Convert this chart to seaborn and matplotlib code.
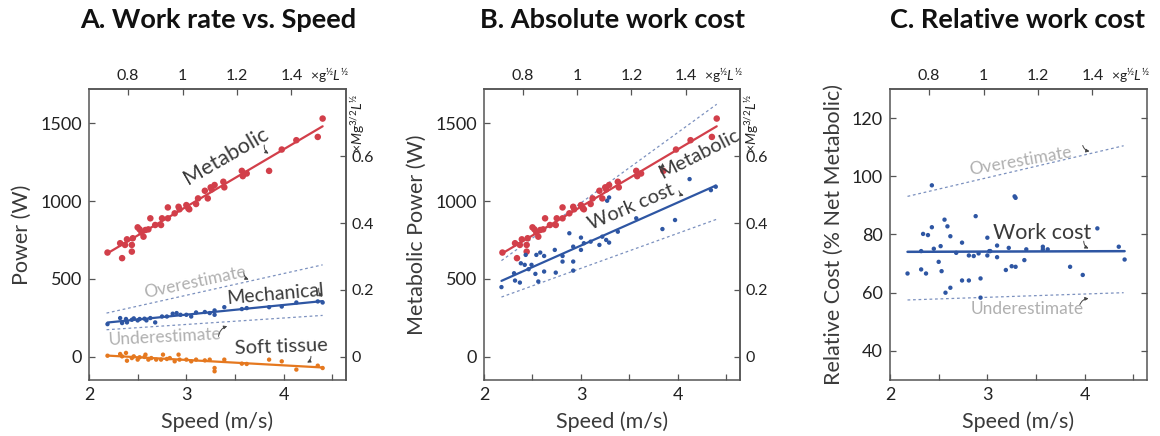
import matplotlib
matplotlib.use("Agg")
import matplotlib.pyplot as plt
import seaborn as sns
import numpy as np
import pandas as pd

# ---------------- data ----------------
met_speed = [2.19, 2.32, 2.34, 2.37, 2.39, 2.44, 2.44, 2.45, 2.50, 2.52, 2.54, 2.56, 2.58,
             2.61, 2.63, 2.68, 2.74, 2.75, 2.81, 2.81, 2.88, 2.92, 2.93, 3.00, 3.02, 3.03,
             3.10, 3.12, 3.19, 3.22, 3.25, 3.26, 3.29, 3.38, 3.39, 3.57, 3.58, 3.62, 3.85,
             3.98, 4.13, 4.35, 4.40]
met_power = [669, 729, 633, 718, 754, 718, 675, 761, 831, 818, 797, 771, 814,
             818, 889, 846, 846, 889, 959, 889, 921, 963, 947, 974, 953, 947,
             981, 1017, 1066, 1017, 1088, 1075, 1103, 1124, 1088, 1194, 1160, 1177, 1194,
             1331, 1391, 1412, 1530]

mech_speed = [2.19, 2.32, 2.34, 2.38, 2.39, 2.44, 2.46, 2.50, 2.52, 2.57, 2.59, 2.63, 2.68,
              2.75, 2.80, 2.86, 2.90, 2.94, 3.00, 3.05, 3.10, 3.19, 3.24, 3.29, 3.29, 3.39,
              3.57, 3.62, 3.85, 3.98, 4.13, 4.35, 4.40]
mech_power = [209, 248, 216, 242, 220, 237, 246, 233, 242, 244, 233, 248, 220,
              258, 258, 276, 280, 269, 269, 258, 284, 287, 280, 297, 269, 318,
              306, 312, 318, 322, 348, 355, 348]

soft_speed = [2.19, 2.32, 2.34, 2.38, 2.39, 2.44, 2.46, 2.50, 2.52, 2.57, 2.58, 2.61, 2.64,
              2.69, 2.74, 2.76, 2.80, 2.83, 2.88, 2.92, 2.93, 3.00, 3.05, 3.10, 3.19, 3.24,
              3.29, 3.29, 3.39, 3.57, 3.62, 3.85, 3.98, 4.13, 4.35, 4.40]
soft_power = [6, 17, 2, 24, -26, -9, 2, -19, -4, -2, 13, -19, -9,
              -19, -19, 13, -15, -9, -30, 13, -19, -19, -30, -19, -24, -19,
              -73, -94, -19, -45, -47, -19, -30, -83, -58, -73]

work_speed = [2.18, 2.31, 2.32, 2.37, 2.38, 2.42, 2.43, 2.46, 2.49, 2.53, 2.54, 2.56, 2.58,
              2.62, 2.62, 2.73, 2.74, 2.81, 2.81, 2.88, 2.92, 2.92, 2.92, 3.00, 3.00, 3.03,
              3.10, 3.19, 3.22, 3.26, 3.27, 3.29, 3.29, 3.38, 3.57, 3.84, 3.97, 4.12, 4.34, 4.39]
work_power = [447, 536, 489, 476, 600, 590, 654, 562, 590, 532, 654, 483, 669,
              647, 547, 686, 540, 647, 611, 793, 707, 611, 553, 765, 686, 729,
              739, 718, 771, 750, 1002, 1023, 733, 803, 889, 820, 878, 1141, 1070, 1092]

rel_speed = [2.18, 2.32, 2.32, 2.34, 2.37, 2.39, 2.43, 2.43, 2.45, 2.50, 2.52, 2.53, 2.56,
             2.57, 2.59, 2.62, 2.62, 2.68, 2.74, 2.74, 2.81, 2.81, 2.86, 2.88, 2.91, 2.93,
             2.93, 3.00, 3.00, 3.02, 3.03, 3.10, 3.10, 3.19, 3.22, 3.25, 3.28, 3.29, 3.29,
             3.38, 3.40, 3.57, 3.57, 3.62, 3.85, 3.98, 4.13, 4.35, 4.41]
rel_cost = [66.6, 74.3, 68.0, 80.2, 66.6, 79.8, 82.5, 96.9, 75.1, 70.6, 76.0, 67.4, 85.1,
            60.0, 82.8, 79.4, 61.7, 73.7, 77.2, 64.2, 72.8, 64.2, 72.6, 86.3, 73.5, 64.9,
            58.3, 78.9, 72.8, 74.3, 74.3, 76.2, 72.2, 67.8, 75.4, 69.1, 93.1, 92.6, 68.9,
            71.2, 74.9, 75.8, 74.9, 74.9, 68.9, 66.1, 82.1, 75.8, 71.4]

# model bound lines (end points)
bound_speed = [2.18, 4.40]
a_over = [280, 590]
a_under = [173, 265]
b_over = [617, 1622]
b_under = [383, 883]
c_over = [93.1, 110.5]
c_under = [57.5, 60.0]

top_ticks = [0.8, 1.0, 1.2, 1.4]
top_labels = ["0.8", "1", "1.2", "1.4"]
right_ticks = [0, 0.2, 0.4, 0.6]
right_labels = ["0", "0.2", "0.4", "0.6"]

# ---------------- style ----------------
sns.set_style("ticks")
plt.rcParams["font.family"] = ["Lato", "DejaVu Sans"]
plt.rcParams["mathtext.fontset"] = "custom"
plt.rcParams["mathtext.rm"] = "Lato"
plt.rcParams["mathtext.it"] = "Lato:italic"

RED = "#d23f4a"
BLUE = "#2e56a3"
ORANGE = "#e5781f"
DOT = "#7c91bf"
GRAY = "#b0b0b0"
DARK = "#3a3a3a"
SPINE = "#555555"

fig = plt.figure(figsize=(11.6, 4.36), dpi=100)
W = 1160.0
H = 436.0
def axrect(left, right, top=89, bottom=380):
    return [left / W, 1 - bottom / H, (right - left) / W, (bottom - top) / H]

axA = fig.add_axes(axrect(89, 346))
axB = fig.add_axes(axrect(484, 740))
axC = fig.add_axes(axrect(890, 1147))

S0, SK = 0.166, 2.795  # speed = S0 + SK * dimensionless
PK = 2145.0

def style(ax, ylim, yticks, rightlabels):
    ax.set_xlim(2, 4.64)
    ax.set_ylim(*ylim)
    ax.set_xticks([2, 2.5, 3, 3.5, 4, 4.5])
    ax.set_xticklabels(["2", "", "3", "", "4", ""])
    ax.set_yticks(yticks)
    ax.set_yticklabels([str(t) for t in yticks])
    for sp in ax.spines.values():
        sp.set_visible(True)
        sp.set_color(SPINE)
        sp.set_linewidth(1.1)
    ax.tick_params(direction="in", length=4, width=0.9, color=SPINE,
                   labelsize=13, labelcolor="#222222", pad=5,
                   right=not rightlabels, top=False)
    ax.set_xlabel("Speed (m/s)", fontsize=15.5, color=DARK, labelpad=6)
    sec = ax.secondary_xaxis("top", functions=(lambda s: (s - S0) / SK, lambda d: S0 + SK * d))
    sec.set_xticks(top_ticks)
    sec.set_xticklabels(top_labels)
    sec.tick_params(direction="in", length=4, width=0.9, color=SPINE,
                    labelsize=11.5, labelcolor="#222222", pad=4)
    sec.spines["top"].set_color(SPINE)
    sec.spines["top"].set_linewidth(1.1)
    ax.text(0.935, 1.045, r"$\times\mathrm{g}^{½}L^{½}$", transform=ax.transAxes,
            fontsize=10, ha="center", va="center", color="#222222")
    if rightlabels:
        sr = ax.secondary_yaxis("right", functions=(lambda w: w / PK, lambda r: r * PK))
        sr.set_yticks(right_ticks)
        sr.set_yticklabels(right_labels)
        sr.tick_params(direction="in", length=4, width=0.9, color=SPINE,
                       labelsize=11.5, labelcolor="#222222", pad=4)
        sr.spines["right"].set_color(SPINE)
        sr.spines["right"].set_linewidth(1.1)
        ax.text(1.045, 0.985, r"$\times M\mathrm{g}^{3/2}L^{½}$", transform=ax.transAxes,
                fontsize=10, ha="center", va="top", rotation=90, color="#222222")

def arrow(ax, xy_from, xy_to, rad=0.3):
    ax.annotate("", xy=xy_to, xytext=xy_from,
                arrowprops=dict(arrowstyle="-|>", lw=0.7, color="#444444",
                                mutation_scale=5, shrinkA=0, shrinkB=0,
                                connectionstyle=f"arc3,rad={rad}"))

def series(ax, x, y, color, size, lw):
    df = pd.DataFrame({"x": x, "y": y})
    sns.scatterplot(data=df, x="x", y="y", ax=ax, color=color, s=size,
                    edgecolor="none", linewidth=0, zorder=3)
    sns.regplot(data=df, x="x", y="y", ax=ax, scatter=False, ci=None,
                color=color, line_kws=dict(lw=lw, zorder=2))

def bound(ax, yv):
    ax.plot(bound_speed, yv, color=DOT, lw=0.9, ls=(0, (2.2, 2.2)), zorder=1)

# ---------------- Panel A ----------------
bound(axA, a_over)
bound(axA, a_under)
series(axA, met_speed, met_power, RED, 22, 1.6)
series(axA, mech_speed, mech_power, BLUE, 10, 1.6)
series(axA, soft_speed, soft_power, ORANGE, 10, 1.6)
style(axA, (-150, 1720), [0, 500, 1000, 1500], True)
axA.set_ylabel("Power (W)", fontsize=15.5, color=DARK, labelpad=6)
axA.text(3.41, 1290, "Metabolic", rotation=30, fontsize=15.5, color=DARK, ha="center", va="center")
arrow(axA, (3.80, 1360), (3.845, 1305))
axA.text(3.91, 400, "Mechanical", rotation=5, fontsize=14, color=DARK, ha="center", va="center")
arrow(axA, (4.36, 440), (4.40, 385))
axA.text(3.09, 480, "Overestimate", rotation=12, fontsize=12.5, color=GRAY, ha="center", va="center")
arrow(axA, (3.59, 540), (3.64, 495))
axA.text(2.78, 126, "Underestimate", rotation=3, fontsize=12.5, color=GRAY, ha="center", va="center")
arrow(axA, (3.33, 130), (3.42, 196), rad=-0.3)
axA.text(3.98, 62, "Soft tissue", rotation=2, fontsize=14.5, color=DARK, ha="center", va="center")
arrow(axA, (4.28, 2), (4.24, -38), rad=-0.3)

# ---------------- Panel B ----------------
bound(axB, b_over)
bound(axB, b_under)
series(axB, met_speed, met_power, RED, 22, 1.6)
series(axB, work_speed, work_power, BLUE, 10, 1.6)
style(axB, (-150, 1720), [0, 500, 1000, 1500], True)
axB.set_ylabel("Metabolic Power (W)", fontsize=15.5, color=DARK, labelpad=6)
axB.text(4.22, 1300, "Metabolic", rotation=27, fontsize=14.5, color=DARK, ha="center", va="center")
arrow(axB, (3.845, 1190), (3.84, 1245), rad=0.0)
axB.text(3.52, 965, "Work cost", rotation=23, fontsize=14.5, color=DARK, ha="center", va="center")
arrow(axB, (4.01, 1066), (4.06, 1036))

# ---------------- Panel C ----------------
bound(axC, c_over)
bound(axC, c_under)
series(axC, rel_speed, rel_cost, BLUE, 10, 1.8)
style(axC, (30, 130), [40, 60, 80, 100, 120], False)
axC.set_ylabel("Relative Cost (% Net Metabolic)", fontsize=15.5, color=DARK, labelpad=6)
axC.text(3.56, 80.6, "Work cost", fontsize=15.5, color=DARK, ha="center", va="center")
arrow(axC, (3.99, 77.7), (4.04, 75.2))
axC.text(3.34, 105.1, "Overestimate", rotation=10, fontsize=12.5, color=GRAY, ha="center", va="center")
arrow(axC, (3.98, 110.6), (4.05, 108.6))
axC.text(3.41, 54.3, "Underestimate", fontsize=12.5, color=GRAY, ha="center", va="center")
arrow(axC, (3.95, 55.9), (4.04, 58.0), rad=-0.3)

# ---------------- titles ----------------
def title(xc, text):
    fig.text(xc / W, 1 - 20 / H, text, fontsize=19.5, fontweight="bold",
             ha="center", va="center", color="#111111")

title(218, "A. Work rate vs. Speed")
title(612, "B. Absolute work cost")
title(1018, "C. Relative work cost")

fig.savefig("out.png", dpi=100)
